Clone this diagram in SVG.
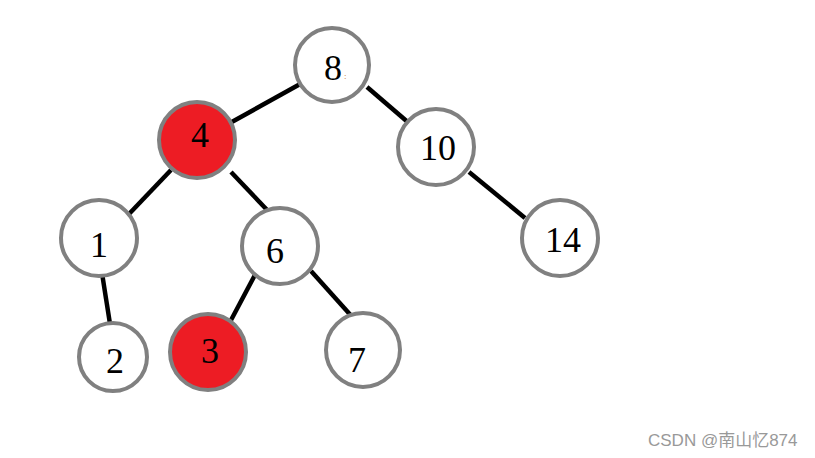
<svg xmlns="http://www.w3.org/2000/svg" width="815" height="458" viewBox="0 0 815 458">
<style>
.n{fill:#fff;stroke:#808080;stroke-width:4}
.r{fill:#ED1C24}
.t{font-family:"Liberation Serif","DejaVu Serif",serif;font-size:36px;fill:#000;text-anchor:middle}
.e{stroke:#000;stroke-width:4.5;fill:none}
</style>
<rect width="815" height="458" fill="#fff"/>
<g id="edges">
<line class="e" x1="302" y1="83" x2="230" y2="123"/>
<line class="e" x1="367" y1="87" x2="410" y2="124"/>
<line class="e" x1="171" y1="170" x2="129" y2="214"/>
<line class="e" x1="231" y1="172" x2="269" y2="212"/>
<line class="e" x1="102" y1="273" x2="110" y2="324"/>
<line class="e" x1="256" y1="273" x2="230" y2="322"/>
<line class="e" x1="311" y1="271" x2="355" y2="320"/>
<line class="e" x1="469" y1="172" x2="525" y2="218"/>
</g>
<g id="n8"><circle class="n" cx="332" cy="65" r="37"/><text class="t" x="333" y="80">8</text><text x="344" y="79" font-family="Liberation Serif,serif" font-size="9" fill="#c07020">:</text></g>
<g id="n4"><circle class="n r" cx="197" cy="140" r="38"/><text class="t" x="200" y="147">4</text></g>
<g id="n10"><circle class="n" cx="436" cy="147" r="38"/><text class="t" x="438" y="160">10</text></g>
<g id="n1"><circle class="n" cx="99" cy="238" r="38"/><text class="t" x="99" y="257">1</text></g>
<g id="n6"><circle class="n" cx="280" cy="246" r="38"/><text class="t" x="275" y="263">6</text></g>
<g id="n14"><circle class="n" cx="560" cy="238" r="38"/><text class="t" x="563" y="252">14</text></g>
<g id="n2"><circle class="n" cx="113" cy="357" r="34"/><text class="t" x="115" y="373">2</text></g>
<g id="n3"><circle class="n r" cx="208" cy="352" r="38"/><text class="t" x="210" y="363">3</text></g>
<g id="n7"><circle class="n" cx="363" cy="350" r="37"/><text class="t" x="357" y="372">7</text></g>
<text x="648" y="446" font-family="'Liberation Sans','Noto Sans CJK SC',sans-serif" font-size="17" fill="#999">CSDN @南山忆874</text>
</svg>
